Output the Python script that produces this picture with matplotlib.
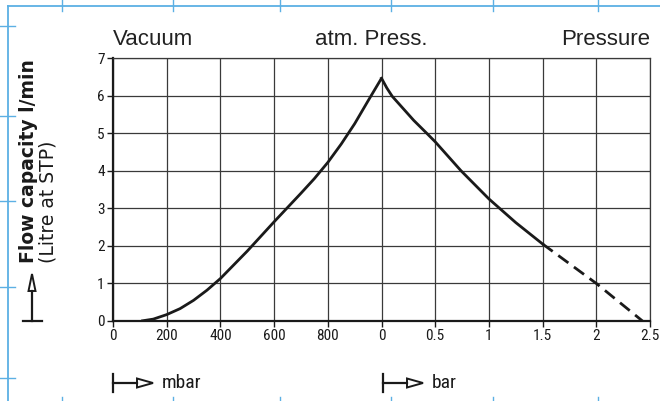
import numpy as np
import matplotlib
matplotlib.use("Agg")
import matplotlib.pyplot as plt
from matplotlib import font_manager
from matplotlib.lines import Line2D
from matplotlib.patches import Polygon

vac_mbar = [105, 150, 200, 250, 300, 350, 400, 500, 600, 700, 750, 800, 850, 900, 950, 1000]
vac_flow = [0.0, 0.05, 0.17, 0.33, 0.55, 0.82, 1.13, 1.86, 2.64, 3.40, 3.79, 4.22, 4.71,
            5.25, 5.86, 6.46]

press_bar = [0.0, 0.05, 0.1, 0.2, 0.3, 0.42, 0.5, 0.74, 1.0, 1.25, 1.5]
press_flow = [6.46, 6.2, 5.98, 5.66, 5.34, 5.0, 4.77, 4.0, 3.25, 2.62, 2.05]

press_bar_ext = [1.5, 2.0, 2.43]
press_flow_ext = [2.05, 1.0, 0.0]

x_tick_labels = ["0", "200", "400", "600", "800", "0", "0.5", "1", "1.5", "2", "2.5"]
y_ticks = [0, 1, 2, 3, 4, 5, 6, 7]

INK = "#1a1a1a"
GRID = "#3a3a3a"
BLUE = "#5cb0e4"


def pick_font(names):
    for n in names:
        try:
            font_manager.findfont(font_manager.FontProperties(family=n),
                                  fallback_to_default=False)
            return n
        except Exception:
            pass
    return "DejaVu Sans"


NARROW = pick_font(["Liberation Sans Narrow", "DejaVu Sans Condensed", "Roboto Condensed"])


def mbar_to_x(v):
    return np.asarray(v) / 200.0


def bar_to_x(v):
    return 5 + np.asarray(v) * 2.0


fig = plt.figure(figsize=(6.6, 4.01), dpi=100)
ax = fig.add_axes([113 / 660, 1 - 321 / 401, 537 / 660, 263 / 401])

ax.plot(mbar_to_x(vac_mbar), vac_flow, color=INK, lw=2.0, solid_capstyle="butt", zorder=3)
ax.plot(bar_to_x(press_bar), press_flow, color=INK, lw=2.0, zorder=3)
ax.plot(bar_to_x(press_bar_ext), press_flow_ext, color=INK, lw=2.0,
        dashes=(4.5, 2.5), zorder=3)

ax.set_xlim(0, 10)
ax.set_ylim(0, 7)
ax.set_xticks(range(11))
ax.set_xticklabels(x_tick_labels)
ax.set_yticks(y_ticks)
ax.grid(True, color=GRID, lw=0.9)
ax.set_axisbelow(True)

for s in ["top", "right"]:
    ax.spines[s].set_color(GRID)
    ax.spines[s].set_linewidth(0.9)
for s in ["left", "bottom"]:
    ax.spines[s].set_color(INK)
    ax.spines[s].set_linewidth(1.6)

ax.tick_params(axis="both", direction="out", length=4, width=1, color=INK,
               labelsize=11, labelcolor=INK, pad=2)
for lab in ax.get_xticklabels() + ax.get_yticklabels():
    lab.set_fontfamily(NARROW)

# headings above the grid
head = dict(fontsize=16, color="#222222", family="Liberation Sans", va="bottom")
ax.text(0, 7.22, "Vacuum", ha="left", **head)
ax.text(4.8, 7.22, "atm. Press.", ha="center", **head)
ax.text(10, 7.22, "Pressure", ha="right", **head)

# y axis caption with the up arrow glyph
fig.text(29 / 660, 1 - 263 / 401, "Flow capacity l/min", rotation=90, ha="center",
         va="bottom", fontsize=13.5, fontweight="bold", family="DejaVu Sans", color=INK)
fig.text(48 / 660, 1 - 263 / 401, "(Litre at STP)", rotation=90, ha="center",
         va="bottom", fontsize=13.5, family="DejaVu Sans", color=INK)


def px(x, y):
    return (x / 660, 1 - y / 401)


def fig_line(xs, ys, **kw):
    fig.add_artist(Line2D([x / 660 for x in xs], [1 - y / 401 for y in ys],
                          transform=fig.transFigure, **kw))


def open_tri(pts):
    fig.add_artist(Polygon([px(*p) for p in pts], closed=True, fill=False,
                           edgecolor=INK, lw=1.4, transform=fig.transFigure))


# up arrow next to y caption
fig_line([23, 42], [321, 321], color=INK, lw=1.6)
fig_line([32, 32], [321, 291], color=INK, lw=1.6)
open_tri([(28.5, 291), (35.5, 291), (32, 274)])

# unit arrows under the x axis
for x0, unit in [(113, "mbar"), (383, "bar")]:
    fig_line([x0, x0], [374, 392], color=INK, lw=1.6)
    fig_line([x0, x0 + 24], [383, 383], color=INK, lw=1.6)
    open_tri([(x0 + 24, 378.5), (x0 + 24, 387.5), (x0 + 40, 383)])
    fig.text((x0 + 49) / 660, 1 - 383 / 401, unit, ha="left", va="center",
             fontsize=14, family=NARROW, color=INK)

# page frame marks of the source document
fig_line([8, 660], [5.5, 5.5], color=BLUE, lw=1.3)
fig_line([8, 8], [5.5, 401], color=BLUE, lw=1.3)
for x in [62, 173, 280, 391, 493, 598]:
    fig_line([x, x], [0, 11], color=BLUE, lw=1.0)
    fig_line([x, x], [397, 401], color=BLUE, lw=1.0)
for y in [26, 116, 201, 287, 378]:
    fig_line([0, 15], [y, y], color=BLUE, lw=1.0)

fig.savefig("out.png", dpi=100, facecolor="white")
